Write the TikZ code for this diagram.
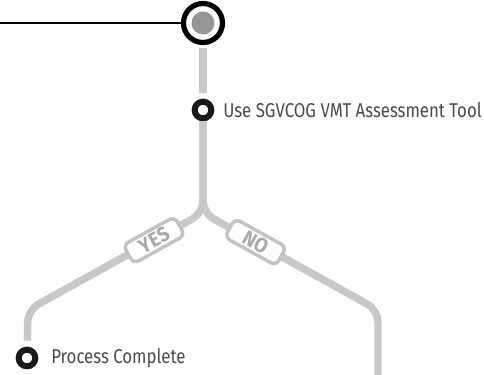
\documentclass[tikz,border=0pt]{standalone}
\usepackage{fontspec}
\setmainfont{Fira Sans}[FakeStretch=0.84]
\newfontfamily\tagfont{Fira Sans}[FakeStretch=0.92]
\usetikzlibrary{positioning}

\definecolor{trackgray}{RGB}{200,200,202}
\definecolor{dotgray}{RGB}{150,150,152}
\definecolor{labelgray}{RGB}{75,75,77}
\definecolor{taggray}{RGB}{195,195,197}
\definecolor{tagtext}{RGB}{170,170,173}

\tikzset{
  track/.style={draw=trackgray, line width=5.6pt, rounded corners=9pt},
  startring/.style={circle, draw=black, fill=white, line width=3.9pt, minimum size=29.25pt, inner sep=0pt},
  startdot/.style={circle, fill=dotgray, minimum size=17.25pt, inner sep=0pt},
  stepring/.style={circle, draw=black!90, fill=white, line width=4.5pt, minimum size=12.5pt, inner sep=0pt},
  steptext/.style={inner sep=0pt, text=labelgray, font=\fontsize{15}{17}\selectfont, anchor=west},
  tag/.style={draw=taggray, fill=white, line width=2.6pt, rounded corners=4.5pt, minimum width=44pt, minimum height=16pt, inner sep=0pt, text=tagtext, font=\tagfont\bfseries\fontsize{15.5}{16}\selectfont}
}

\begin{document}
\begin{tikzpicture}[x=0.75pt,y=0.75pt,yscale=-1,xscale=1]
    \useasboundingbox (0,0) rectangle (484,374);

    %Start point
    \node[startring] (start) at (203,23) {};
    \node[startdot] (startdot) at (start) {};
    \coordinate (edge) at (0,23);
    \draw[black, line width=0.9pt] (edge) -- (start);

    %Step: assessment tool
    \node[stepring] (tool) at (203,110) {};
    \node[steptext, right=6.5pt of tool] (tooltext) {Use SGVCOG VMT Assessment Tool};
    \draw[track, shorten <=2pt, shorten >=4pt] (start) -- (tool);

    %Fork and branches
    \coordinate (fork) at (203,213);
    \coordinate (lbend) at (28,310);
    \coordinate (rbend) at (378,310);
    \coordinate (rend) at (378,380);
    \node[stepring] (done) at (27,358) {};
    \node[steptext, right=9.5pt of done] (donetext) {Process Complete};

    \draw[track, shorten >=4.5pt] (tool) -- (fork) -- (lbend) -- (done);
    \draw[track] (tool) -- (fork) -- (rbend) -- (rend);

    %Branch tags
    \path (fork) -- (lbend) node[tag, pos=0.28, rotate=29] (yes) {YES};
    \path (fork) -- (rbend) node[tag, pos=0.3, rotate=-29] (no) {NO};

\end{tikzpicture}
\end{document}
